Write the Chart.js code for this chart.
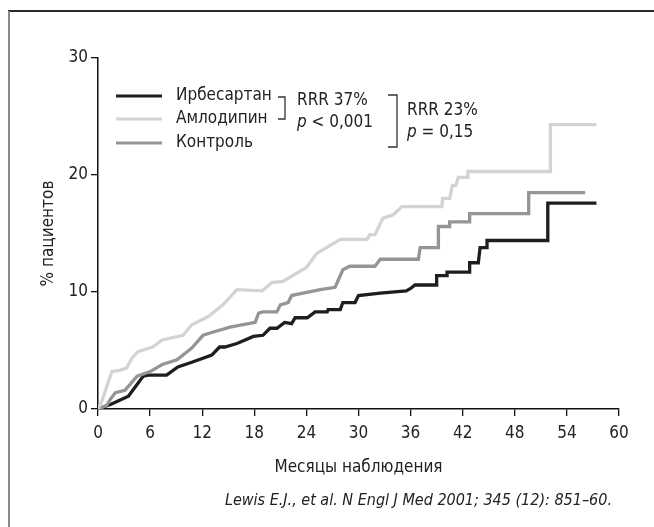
<!DOCTYPE html>
<html>
<head>
<meta charset="utf-8">
<script src="https://cdn.jsdelivr.net/npm/chart.js@4"></script>
<style>
  body { margin: 0; background: #fff; }
  canvas { display: block; }
</style>
</head>
<body>
<canvas id="chart" width="654" height="527"></canvas>
<script>
  // Values (months / % patients)
  const seriesNames = ['Ирбесартан', 'Амлодипин', 'Контроль'];

  const irbMonths = [0, 1.5, 3.5, 5.2, 5.8, 7.9, 9.2, 10.8, 13.1, 14.0, 14.6, 16, 17.9, 19, 19.8, 20.6, 21.5, 22.3, 22.7, 24.1, 25, 26.4, 26.5, 27.9, 28.2, 29.6, 30, 32.5, 35.5, 36, 36.5, 39, 39, 40.2, 40.2, 42.8, 42.8, 43.8, 44, 44.8, 44.8, 51.8, 51.8, 57.4];
  const irbValues = [0, 0.4, 1.1, 2.8, 2.9, 2.9, 3.6, 4.0, 4.6, 5.3, 5.3, 5.6, 6.2, 6.3, 6.9, 6.9, 7.4, 7.3, 7.8, 7.8, 8.3, 8.3, 8.5, 8.5, 9.1, 9.1, 9.7, 9.9, 10.1, 10.3, 10.6, 10.6, 11.4, 11.4, 11.7, 11.7, 12.5, 12.5, 13.8, 13.8, 14.4, 14.4, 17.6, 17.6];

  const amlMonths = [0, 0.5, 1.0, 1.6, 2.5, 3.3, 3.9, 4.6, 6.3, 7.4, 9.8, 10.8, 12.7, 14.4, 16, 18.9, 20, 21.3, 24, 25.2, 27.9, 31, 31.3, 31.9, 32.8, 34, 35, 39.6, 39.7, 40.5, 40.8, 41.2, 41.5, 42.5, 42.6, 52.1, 52.1, 57.4];
  const amlValues = [0, 0.8, 1.9, 3.2, 3.3, 3.5, 4.35, 4.9, 5.3, 5.9, 6.3, 7.2, 7.9, 8.9, 10.2, 10.1, 10.8, 10.9, 12.1, 13.3, 14.5, 14.5, 14.9, 14.9, 16.3, 16.6, 17.3, 17.3, 18.0, 18.0, 19.1, 19.1, 19.8, 19.8, 20.3, 20.3, 24.3, 24.3];

  const ctlMonths = [0, 1.0, 1.4, 2.0, 3.1, 4.5, 6.0, 7.4, 9.1, 10.8, 12.1, 12.9, 15.2, 18.1, 18.5, 19, 20.6, 21, 21.9, 22.3, 23.6, 25.6, 27.3, 27.6, 28.2, 29, 31.9, 32.5, 36.9, 37.1, 39.2, 39.2, 40.5, 40.5, 42.8, 42.8, 49.6, 49.6, 56.1];
  const ctlValues = [0, 0.3, 0.8, 1.4, 1.6, 2.8, 3.2, 3.8, 4.2, 5.2, 6.3, 6.5, 7.0, 7.4, 8.2, 8.3, 8.3, 8.9, 9.1, 9.7, 9.9, 10.2, 10.4, 10.9, 11.9, 12.2, 12.2, 12.8, 12.8, 13.8, 13.8, 15.6, 15.6, 16.0, 16.0, 16.7, 16.7, 18.5, 18.5];

  const xTicks = [0, 6, 12, 18, 24, 30, 36, 42, 48, 54, 60];
  const yTicks = [0, 10, 20, 30];

  const colors = ['#1e1e1e', '#d3d3d3', '#959595'];
  const FONT = '"Liberation Sans Narrow", "DejaVu Sans Condensed", sans-serif';

  const toPoints = (ms, vs) => ms.map((m, i) => ({ x: m, y: vs[i] }));

  // legend, brackets, frame and citation
  const annotations = {
    id: 'annotations',
    afterDraw(chart) {
      const c = chart.ctx;
      c.save();
      // frame
      c.lineWidth = 2;
      c.strokeStyle = '#2a2a2a';
      c.beginPath(); c.moveTo(8, 11); c.lineTo(654, 11); c.stroke();
      c.strokeStyle = '#8a8a8a';
      c.beginPath(); c.moveTo(9, 11); c.lineTo(9, 527); c.stroke();

      // legend
      const rows = [96, 119, 143];
      c.font = '17px ' + FONT;
      c.textBaseline = 'middle';
      c.textAlign = 'left';
      rows.forEach((y, i) => {
        c.strokeStyle = colors[i];
        c.lineWidth = 3;
        c.beginPath(); c.moveTo(116, y); c.lineTo(162, y); c.stroke();
        c.fillStyle = '#222';
        c.fillText(seriesNames[i], 176, y);
      });

      // brackets
      c.strokeStyle = '#333';
      c.lineWidth = 1.3;
      c.beginPath();
      c.moveTo(278, 97); c.lineTo(285, 97); c.lineTo(285, 119); c.lineTo(278, 119);
      c.stroke();
      c.beginPath();
      c.moveTo(388, 95); c.lineTo(397, 95); c.lineTo(397, 147); c.lineTo(388, 147);
      c.stroke();

      c.fillStyle = '#222';
      c.fillText('RRR 37%', 297, 101);
      c.fillText('RRR 23%', 407, 111);
      const pLine = (x, y, rest) => {
        c.font = 'italic 17px ' + FONT;
        c.fillText('p', x, y);
        const w = c.measureText('p').width;
        c.font = '17px ' + FONT;
        c.fillText(rest, x + w, y);
      };
      pLine(297, 123, ' < 0,001');
      pLine(407, 133, ' = 0,15');

      // citation
      c.font = 'italic 16px ' + FONT;
      c.textAlign = 'right';
      c.fillStyle = '#222';
      c.fillText('Lewis E.J., et al. N Engl J Med 2001; 345 (12): 851–60.', 612, 501);
      c.restore();
    }
  };

  new Chart(document.getElementById('chart'), {
    type: 'line',
    plugins: [annotations],
    data: {
      datasets: [
        { label: seriesNames[1], data: toPoints(amlMonths, amlValues), borderColor: colors[1] },
        { label: seriesNames[2], data: toPoints(ctlMonths, ctlValues), borderColor: colors[2] },
        { label: seriesNames[0], data: toPoints(irbMonths, irbValues), borderColor: colors[0] }
      ].map(d => Object.assign(d, {
        borderWidth: 3.3,
        pointRadius: 0,
        tension: 0,
        fill: false,
        borderJoinStyle: 'miter'
      }))
    },
    options: {
      responsive: false,
      animation: false,
      layout: { padding: { left: 0, top: 58, right: 35, bottom: 48 } },
      plugins: { legend: { display: false }, tooltip: { enabled: false } },
      scales: {
        x: {
          type: 'linear',
          min: 0, max: 60,
          afterFit(s) { s.height = 70; },
          afterBuildTicks(s) { s.ticks = xTicks.map(v => ({ value: v })); },
          grid: { display: true, drawOnChartArea: false, tickLength: 7, color: '#111', lineWidth: 1.3 },
          border: { display: true, color: '#111', width: 1.5 },
          ticks: { color: '#222', font: { family: FONT, size: 17 }, padding: 7, maxRotation: 0 },
          title: { display: true, text: 'Месяцы наблюдения', color: '#222', font: { family: FONT, size: 17 }, padding: { top: 0, bottom: 1 } }
        },
        y: {
          min: 0, max: 30,
          afterFit(s) { s.width = 98; },
          afterBuildTicks(s) { s.ticks = yTicks.map(v => ({ value: v })); },
          grid: { display: true, drawOnChartArea: false, tickLength: 7, color: '#111', lineWidth: 1.3 },
          border: { display: true, color: '#111', width: 1.5 },
          ticks: { color: '#222', font: { family: FONT, size: 17 }, padding: 3 },
          title: { display: true, text: '% пациентов', color: '#222', font: { family: FONT, size: 17 }, padding: { top: 38, bottom: 0 } }
        }
      }
    }
  });
</script>
</body>
</html>
